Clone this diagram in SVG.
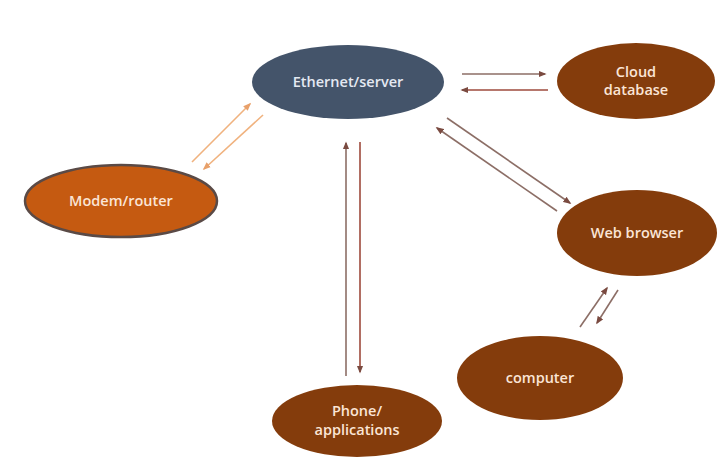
<svg xmlns="http://www.w3.org/2000/svg" width="717" height="457" viewBox="0 0 717 457">
<style>
.lbl{font-family:"Open Sans","Liberation Sans",sans-serif;font-size:14.5px;font-weight:600;text-anchor:middle;fill:#FBE5D6}
.brown{fill:#843C0C}
.conn line{stroke-width:1.6;fill:none}
.dk{stroke:#8C6E66}
.rd{stroke:#9E4A3C}
.pe{stroke:#F0B27E}
</style>
<defs>
<marker id="ahd" viewBox="0 0 10 10" refX="8" refY="5" markerWidth="5" markerHeight="5" orient="auto"><path d="M0,1 L10,5 L0,9 z" fill="#7A4A40"/></marker>
<marker id="ahp" viewBox="0 0 10 10" refX="8" refY="5" markerWidth="5" markerHeight="5" orient="auto"><path d="M0,1 L10,5 L0,9 z" fill="#E8A06A"/></marker>
</defs>
<rect width="717" height="457" fill="#FFFFFF"/>
<g id="connectors" class="conn">
<line class="dk" x1="462" y1="74" x2="545" y2="74" marker-end="url(#ahd)"/>
<line class="rd" x1="548" y1="90" x2="462" y2="90" marker-end="url(#ahd)"/>
<line class="dk" x1="447" y1="118" x2="570" y2="203" marker-end="url(#ahd)"/>
<line class="dk" x1="557" y1="211" x2="437" y2="128" marker-end="url(#ahd)"/>
<line class="dk" x1="346" y1="376" x2="346" y2="143" marker-end="url(#ahd)"/>
<line class="rd" x1="360" y1="142" x2="360" y2="372" marker-end="url(#ahd)"/>
<line class="dk" x1="580" y1="327" x2="607" y2="288" marker-end="url(#ahd)"/>
<line class="dk" x1="618" y1="290" x2="597" y2="323" marker-end="url(#ahd)"/>
<line class="pe" x1="192" y1="162" x2="250" y2="104" marker-end="url(#ahp)"/>
<line class="pe" x1="263" y1="115" x2="204" y2="169" marker-end="url(#ahp)"/>
</g>
<g id="ethernet">
<ellipse cx="348" cy="82" rx="96" ry="37" fill="#44546A"/>
<text class="lbl" x="348" y="87" style="fill:#E4E9F2">Ethernet/server</text>
</g>
<g id="cloud">
<ellipse class="brown" cx="636" cy="81" rx="79" ry="38"/>
<text class="lbl" x="636" y="77">Cloud</text>
<text class="lbl" x="636" y="95">database</text>
</g>
<g id="modem">
<ellipse cx="121" cy="201" rx="96" ry="36" fill="#C55A11" stroke="#5A4A46" stroke-width="2.5"/>
<text class="lbl" x="121" y="206">Modem/router</text>
</g>
<g id="webbrowser">
<ellipse class="brown" cx="637" cy="233" rx="80" ry="43"/>
<text class="lbl" x="637" y="238">Web browser</text>
</g>
<g id="computer">
<ellipse class="brown" cx="540" cy="378" rx="83" ry="42"/>
<text class="lbl" x="540" y="383">computer</text>
</g>
<g id="phone">
<ellipse class="brown" cx="357" cy="421" rx="85" ry="36"/>
<text class="lbl" x="357" y="416">Phone/</text>
<text class="lbl" x="357" y="435">applications</text>
</g>
</svg>
